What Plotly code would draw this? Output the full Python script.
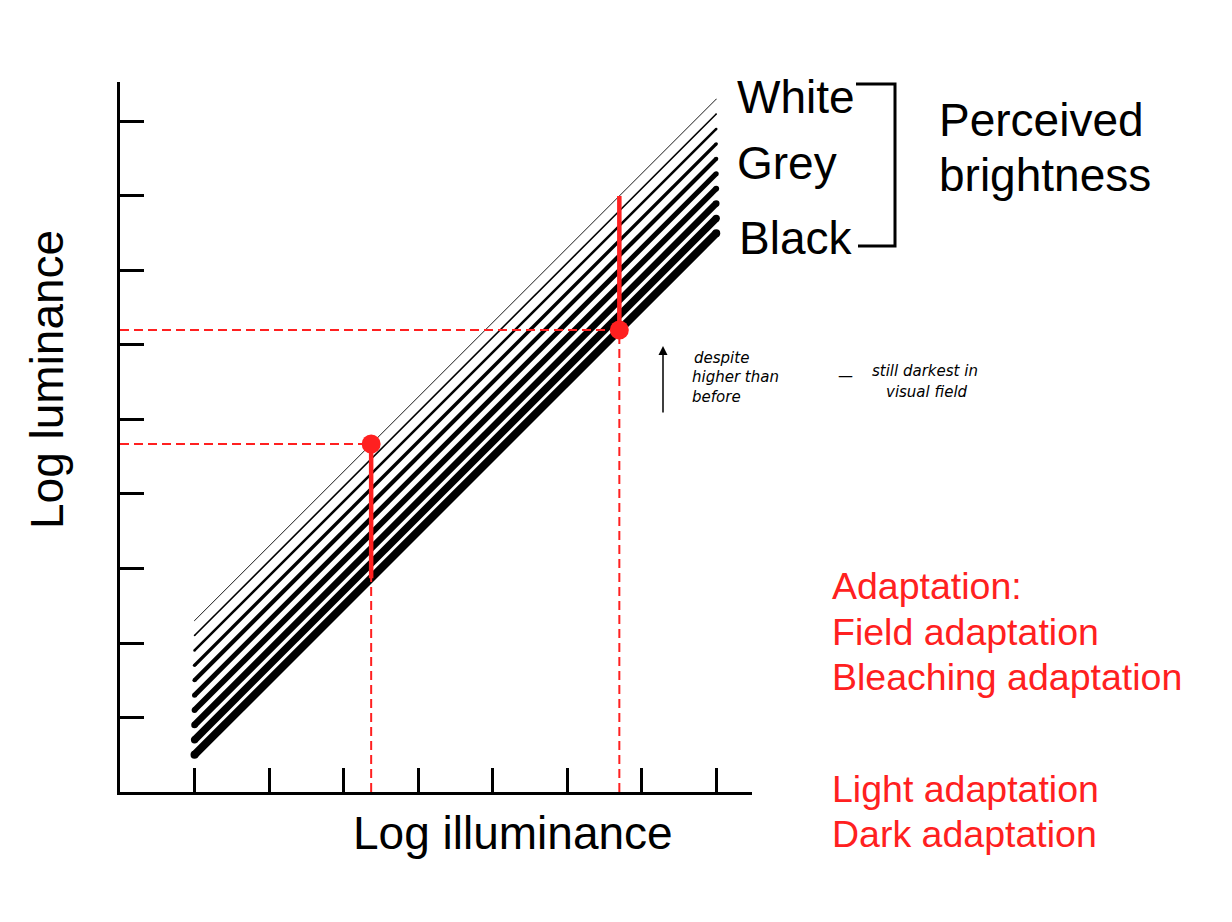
import plotly.graph_objects as go

# ---------------- data ----------------
illuminance_span = [1, 8]                       # log illuminance where the lines start / end
reflectance_offsets = [-0.5, -0.3, -0.1, 0.1, 0.3, 0.5, 0.7, 0.9, 1.1, 1.3]  # black ... white
line_widths = [8, 7.3, 6.6, 5.8, 5.0, 4.2, 3.4, 2.5, 1.6, 0.9]

# two adaptation states
state_illuminance = [3.37, 6.70]
state_point_lum = [4.67, 6.20]                  # red dots
state_bar_low = [2.87, 6.20]                    # solid red bar (range of lines)
state_bar_high = [4.67, 8.00]

x_ticks = [1, 2, 3, 4, 5, 6, 7, 8]
y_ticks = [1, 2, 3, 4, 5, 6, 7, 8, 9]
x_max, y_max = 8.48, 9.53

RED = "#ff2020"
FONT = "Liberation Sans, Arial, sans-serif"

# plot area in (reference) pixels
L, R, T, B = 120, 752, 82, 792
W, H = 1232, 922
PAGE = 8  # default body margin of the html page


def px(x):
    return (x - L) / (R - L)


def py(y):
    return (B - y) / (B - T)


fig = go.Figure()

# brightness lines
for off, w in zip(reflectance_offsets, line_widths):
    xs = illuminance_span
    ys = [x + off for x in xs]
    fig.add_trace(go.Scatter(
        x=xs, y=ys, mode="lines+markers",
        line=dict(color="black", width=w),
        marker=dict(color="black", size=w, line=dict(width=0)),
        hoverinfo="skip", showlegend=False))

# red guides
for xi, yp, lo, hi in zip(state_illuminance, state_point_lum, state_bar_low, state_bar_high):
    fig.add_trace(go.Scatter(x=[xi, xi], y=[0, yp], mode="lines",
                             line=dict(color=RED, width=2, dash="9px,5px"),
                             hoverinfo="skip", showlegend=False))
    fig.add_trace(go.Scatter(x=[0, xi], y=[yp, yp], mode="lines",
                             line=dict(color=RED, width=2, dash="9px,5px"),
                             hoverinfo="skip", showlegend=False))
    fig.add_trace(go.Scatter(x=[xi, xi], y=[lo, hi], mode="lines",
                             line=dict(color=RED, width=4.5),
                             hoverinfo="skip", showlegend=False))
    fig.add_trace(go.Scatter(x=[xi], y=[yp], mode="markers",
                             marker=dict(color=RED, size=19, line=dict(width=0)),
                             hoverinfo="skip", showlegend=False))

axis_common = dict(showgrid=False, zeroline=False, showline=True, linecolor="black",
                   linewidth=3, ticks="inside", ticklen=24, tickwidth=3,
                   tickcolor="black", showticklabels=False, fixedrange=True)

fig.update_layout(
    width=W - PAGE, height=H - PAGE,
    margin=dict(l=L - PAGE, r=W - R, t=T - PAGE, b=H - B),
    paper_bgcolor="white", plot_bgcolor="white",
    xaxis=dict(range=[0, x_max], tickvals=x_ticks, **axis_common),
    yaxis=dict(range=[0, y_max], tickvals=y_ticks, **axis_common),
    font=dict(family=FONT, color="black"),
)


def label(text, x, y, size, color="black", xanchor="left", angle=0, family=FONT):
    fig.add_annotation(text=text, x=px(x), y=py(y), xref="paper", yref="paper",
                       xanchor=xanchor, yanchor="middle", showarrow=False,
                       textangle=angle, font=dict(size=size, color=color, family=family))


label("Log illuminance", 513, 833, 46, xanchor="center")
label("Log luminance", 47, 380, 46, xanchor="center", angle=-90)

label("White", 735, 97, 46)
label("Grey", 735, 163, 46)
label("Black", 737, 238, 46)
label("Perceived", 937, 120, 46)
label("brightness", 937, 175, 46)

for txt, yy in [("Adaptation:", 586), ("Field adaptation", 632), ("Bleaching adaptation", 677),
                ("Light adaptation", 789), ("Dark adaptation", 834)]:
    label(txt, 830, yy, 37.5, color=RED)

# bracket
fig.add_shape(type="path", xref="paper", yref="paper",
              path=f"M {px(856)},{py(84)} L {px(895)},{py(84)} L {px(895)},{py(246)} L {px(858)},{py(246)}",
              line=dict(color="black", width=3))

# handwritten note
HAND = "DejaVu Sans"
fig.add_annotation(x=px(663), y=py(346), ax=0, ay=68, xref="paper", yref="paper",
                   axref="pixel", ayref="pixel", text="", showarrow=True,
                   arrowhead=2, arrowsize=1.2, arrowwidth=1.5, arrowcolor="black")
label("<i>despite</i>", 692, 358, 15, family=HAND)
label("<i>higher than</i>", 690, 377, 15, family=HAND)
label("<i>before</i>", 690, 397, 15, family=HAND)
label("—", 836, 376, 15, family=HAND)
label("<i>still darkest in</i>", 870, 371, 15, family=HAND)
label("<i>visual field</i>", 884, 392, 15, family=HAND)

fig.write_html("out.html")
